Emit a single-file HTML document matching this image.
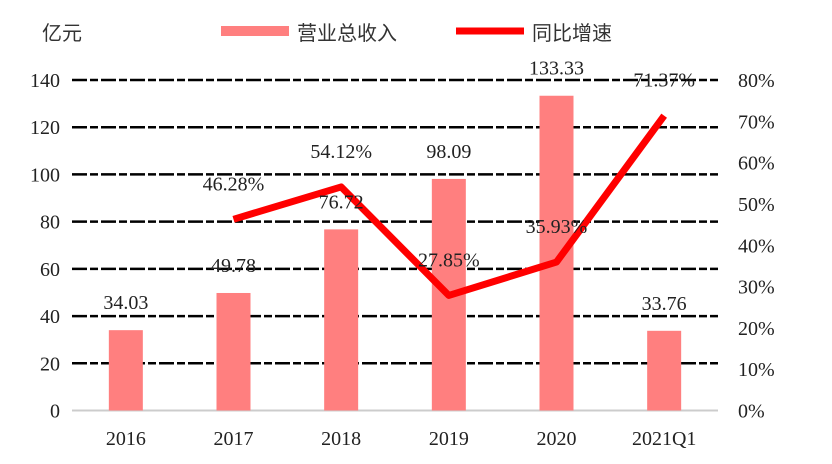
<!DOCTYPE html>
<html><head><meta charset="utf-8"><style>
body{margin:0;background:#fff;}
svg{display:block;font-family:"Liberation Serif","Noto Serif CJK SC",serif;}
</style></head><body>
<svg id="chart" width="832" height="464">
<text x="42" y="40" font-size="20" fill="#333" font-family="'Liberation Sans','Noto Sans CJK SC',sans-serif">亿元</text>
<g>
<rect x="221" y="26" width="68" height="10" fill="#ff7f7f"/>
<text x="297" y="40" font-size="20" fill="#333" font-family="'Liberation Sans','Noto Sans CJK SC',sans-serif">营业总收入</text>
<line x1="456" y1="31" x2="524" y2="31" stroke="#ff0000" stroke-width="7"/>
<text x="532" y="40" font-size="20" fill="#333" font-family="'Liberation Sans','Noto Sans CJK SC',sans-serif">同比增速</text>
</g>
<g id="grid"></g><g id="bars"></g><g id="line"></g><g id="labels"></g>
</svg>
<script>
const categories=["2016","2017","2018","2019","2020","2021Q1"];
const revenue=[34.03,49.78,76.72,98.09,133.33,33.76];
const growth=[null,46.28,54.12,27.85,35.93,71.37];
const leftTicks=[0,20,40,60,80,100,120,140];
const rightTicks=[0,10,20,30,40,50,60,70,80];
const NS="http://www.w3.org/2000/svg";
const x0=72,x1=718,yb=410.5,yt=80;
const yL=v=>yb-(v/140)*(yb-yt);
const yR=v=>yb-(v/80)*(yb-yt);
const band=(x1-x0)/categories.length;
const xC=i=>x0+band*(i+0.5);
function mk(t,a,p){const e=document.createElementNS(NS,t);for(const k in a)e.setAttribute(k,a[k]);p.appendChild(e);return e;}
const grid=document.getElementById('grid'),bars=document.getElementById('bars'),line=document.getElementById('line'),labels=document.getElementById('labels');
leftTicks.forEach(v=>{
 if(v>0){const l=mk('line',{x1:x0,x2:x1,y1:yL(v),y2:yL(v),stroke:'#000','stroke-width':2.5,'stroke-dasharray':'15,3,8,3'},grid);
 
 }
 const t=mk('text',{x:60,y:yL(v)+7,'font-size':20,'text-anchor':'end',fill:'#222'},labels);t.textContent=v;
 
 
});
const base=mk('line',{x1:x0,x2:x1,y1:yb,y2:yb,stroke:'#ccc','stroke-width':2},grid);


rightTicks.forEach(v=>{
 const t=mk('text',{x:738,y:yR(v)+7,'font-size':20,fill:'#222'},labels);t.textContent=v+'%';
 
 
});
categories.forEach((c,i)=>{
 const r=mk('rect',{x:xC(i)-17,y:yL(revenue[i]),width:34,height:yb-yL(revenue[i]),fill:'#ff7f7f'},bars);
 
 
 const t=mk('text',{x:xC(i),y:yL(revenue[i])-21,'font-size':20,'text-anchor':'middle',fill:'#222'},labels);t.textContent=revenue[i].toFixed(2);
 
 
 const xl=mk('text',{x:xC(i),y:445,'font-size':20,'text-anchor':'middle',fill:'#222'},labels);xl.textContent=c;
 
 
});
const pts=[];growth.forEach((g,i)=>{if(g!==null)pts.push([xC(i),yR(g),g,categories[i]]);});
const pl=mk('polyline',{points:pts.map(p=>p[0]+','+p[1]).join(' '),fill:'none',stroke:'#ff0000','stroke-width':7,'stroke-linejoin':'round'},line);


pts.forEach(p=>{
 const t=mk('text',{x:p[0],y:p[1]-29,'font-size':20,'text-anchor':'middle',fill:'#222'},labels);t.textContent=p[2].toFixed(2)+'%';
 
 
});
</script>
</body></html>
